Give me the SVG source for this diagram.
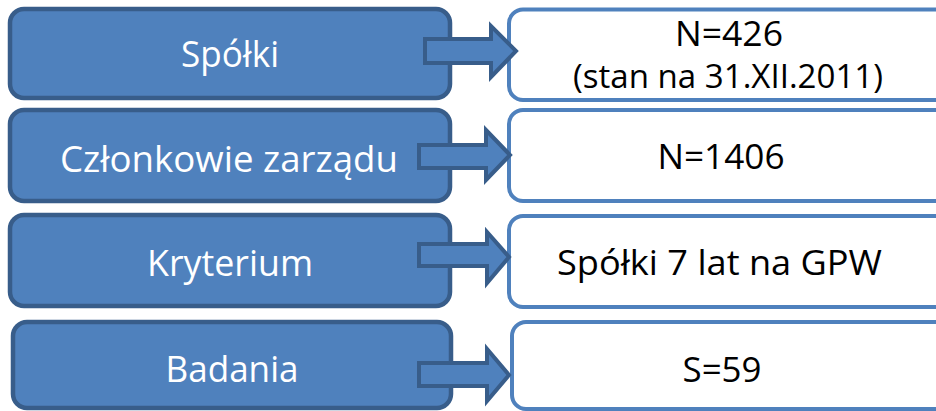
<svg xmlns="http://www.w3.org/2000/svg" width="936" height="411" viewBox="0 0 936 411">
<style>
.lbox{fill:#4F81BD;stroke:#385D8A;stroke-width:4.5}
.rbox{fill:#FFFFFF;stroke:#4F81BD;stroke-width:4}
.arr{fill:#4F81BD;stroke:#385D8A;stroke-width:4;stroke-linejoin:miter}
.lt{font-family:"Open Sans","Noto Sans","DejaVu Sans",sans-serif;font-size:36px;fill:#FFFFFF;text-anchor:middle}
.rt{font-family:"Open Sans","Noto Sans","DejaVu Sans",sans-serif;font-size:35px;fill:#000000;text-anchor:middle}
.rs{font-size:32px}
</style>
<rect width="936" height="411" fill="#FFFFFF"/>
<g id="node-spolki">
<rect class="lbox" x="10" y="9" width="440" height="89" rx="14"/>
<text class="lt" x="230" y="67" textLength="98" lengthAdjust="spacingAndGlyphs">Spółki</text>
</g>
<g id="node-czlonkowie">
<rect class="lbox" x="10" y="110" width="440" height="91" rx="14"/>
<text class="lt" x="229" y="172" textLength="338" lengthAdjust="spacingAndGlyphs">Członkowie zarządu</text>
</g>
<g id="node-kryterium">
<rect class="lbox" x="10" y="215" width="440" height="91" rx="14"/>
<text class="lt" x="230" y="276" textLength="166" lengthAdjust="spacingAndGlyphs">Kryterium</text>
</g>
<g id="node-badania">
<rect class="lbox" x="13" y="322" width="438" height="86" rx="14"/>
<text class="lt" x="232" y="382" textLength="133" lengthAdjust="spacingAndGlyphs">Badania</text>
</g>
<g id="node-n426">
<rect class="rbox" x="509" y="9.5" width="460" height="90.5" rx="14"/>
<text class="rt" x="729" y="46" textLength="108" lengthAdjust="spacingAndGlyphs">N=426</text>
<text class="rt rs" x="728" y="88" textLength="310" lengthAdjust="spacingAndGlyphs">(stan na 31.XII.2011)</text>
</g>
<g id="node-n1406">
<rect class="rbox" x="509" y="110" width="460" height="91" rx="14"/>
<text class="rt" x="721" y="169" textLength="127" lengthAdjust="spacingAndGlyphs">N=1406</text>
</g>
<g id="node-gpw">
<rect class="rbox" x="509" y="216" width="460" height="91" rx="14"/>
<text class="rt" x="719.5" y="275" textLength="325" lengthAdjust="spacingAndGlyphs">Spółki 7 lat na GPW</text>
</g>
<g id="node-s59">
<rect class="rbox" x="512" y="322" width="460" height="87" rx="14"/>
<text class="rt" x="722" y="382" textLength="79" lengthAdjust="spacingAndGlyphs">S=59</text>
</g>
<g id="connectors">
<polygon class="arr" points="425,39 491,39 491,26 516,51 491,77 491,63 425,63"/>
<polygon class="arr" points="419,145 486,145 486,130 510,155 486,180 486,168 419,168"/>
<polygon class="arr" points="419,244 487,244 487,232 509,257 487,283 487,266 419,266"/>
<polygon class="arr" points="419,363 487,363 487,349 509,375 487,401 487,386 419,386"/>
</g>
</svg>
